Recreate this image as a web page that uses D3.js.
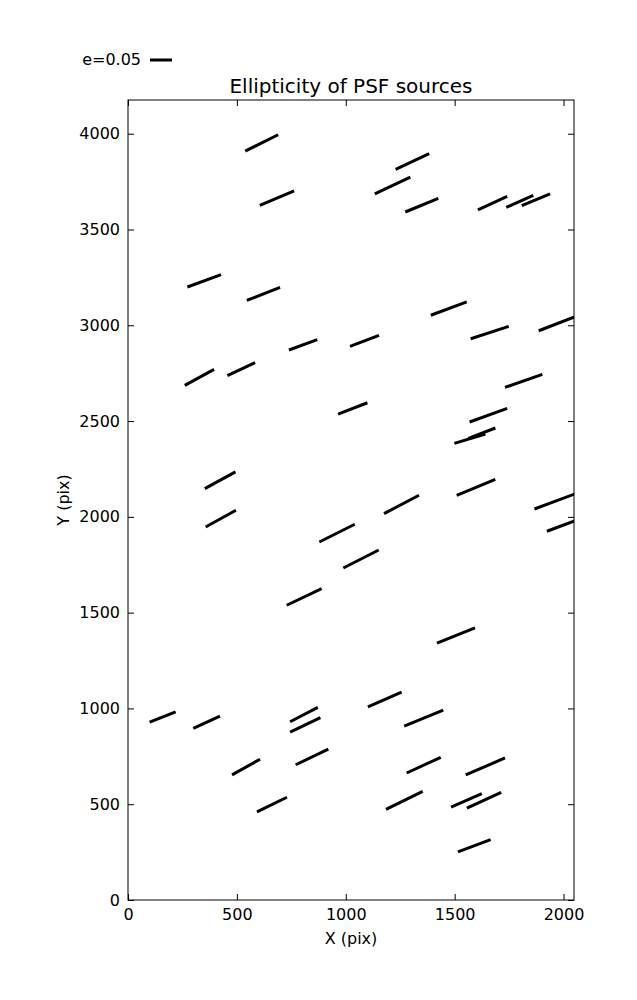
<!DOCTYPE html>
<html><head><meta charset="utf-8">
<script src="https://cdn.jsdelivr.net/npm/d3@7"></script>
<style>body{margin:0;background:#fff}svg{display:block}text{font-family:"DejaVu Sans",sans-serif}</style>
</head><body><div id="chart"></div>
<script>
const titleText = "Ellipticity of PSF sources";
const xTicks = [0, 500, 1000, 1500, 2000];
const yTicks = [0, 500, 1000, 1500, 2000, 2500, 3000, 3500, 4000];
const legendE = 0.05;
// source centre X (pix)
const srcX = [614, 1306, 684, 1215, 1349, 1674, 1799, 1873, 350, 622, 1473, 804, 1086, 1661, 1972, 328, 520, 1817, 1032, 1655, 1570, 1625, 423, 1598, 1256, 1963, 426, 960, 2001, 1070, 809, 1506, 159, 361, 808, 814, 542, 845, 661, 1179, 1358, 1358, 1641, 1269, 1554, 1635, 1590];
// source centre Y (pix)
const srcY = [3952, 3855, 3664, 3730, 3627, 3638, 3647, 3655, 3232, 3164, 3087, 2898, 2919, 2962, 3009, 2728, 2771, 2710, 2566, 2531, 2408, 2437, 2191, 2154, 2065, 2082, 1991, 1915, 1958, 1780, 1582, 1381, 955, 928, 968, 914, 694, 747, 498, 1047, 949, 704, 697, 520, 520, 521, 283];
// ellipticity
const srcE = [0.0836, 0.0840, 0.0848, 0.0893, 0.0812, 0.0732, 0.0671, 0.0696, 0.0815, 0.0812, 0.0872, 0.0685, 0.0705, 0.0909, 0.0910, 0.0759, 0.0695, 0.0898, 0.0714, 0.0909, 0.0736, 0.0657, 0.0793, 0.0950, 0.0898, 0.1020, 0.0786, 0.0900, 0.0818, 0.0902, 0.0880, 0.0932, 0.0636, 0.0668, 0.0709, 0.0764, 0.0730, 0.0823, 0.0759, 0.0836, 0.0959, 0.0852, 0.0973, 0.0930, 0.0761, 0.0857, 0.0793];
// position angle (deg)
const srcPA = [26.3, 24.9, 23.1, 25.1, 22.5, 24.6, 24.0, 22.5, 20.1, 21.3, 20.3, 20.0, 20.8, 18.1, 21.0, 28.6, 25.1, 19.2, 21.1, 20.0, 16.7, 20.9, 28.6, 22.5, 27.7, 20.5, 28.9, 26.6, 20.7, 26.9, 25.4, 21.9, 21.6, 24.7, 27.5, 25.7, 29.3, 25.7, 26.1, 23.6, 22.3, 24.8, 23.4, 26.1, 23.4, 24.6, 20.6];

const W = 637, H = 1000;
const m = {left: 128, right: 574, top: 100, bottom: 900};
const svg = d3.select("#chart").append("svg").attr("width", W).attr("height", H);

const x = d3.scaleLinear().domain([0, 2048]).range([m.left, m.right]);
const y = d3.scaleLinear().domain([0, 4176]).range([m.bottom, m.top]);
const eLen = d3.scaleLinear().domain([0, legendE]).range([0, 22]);

svg.append("defs").append("clipPath").attr("id", "clip")
  .append("rect").attr("x", m.left).attr("y", m.top)
  .attr("width", m.right - m.left).attr("height", m.bottom - m.top);

const data = srcX.map((d, i) => ({x: d, y: srcY[i], e: srcE[i], pa: srcPA[i]}));

svg.append("g").attr("clip-path", "url(#clip)")
  .selectAll("line").data(data).join("line")
  .attr("x1", d => x(d.x) - eLen(d.e) / 2 * Math.cos(d.pa * Math.PI / 180))
  .attr("x2", d => x(d.x) + eLen(d.e) / 2 * Math.cos(d.pa * Math.PI / 180))
  .attr("y1", d => y(d.y) + eLen(d.e) / 2 * Math.sin(d.pa * Math.PI / 180))
  .attr("y2", d => y(d.y) - eLen(d.e) / 2 * Math.sin(d.pa * Math.PI / 180))
  .attr("stroke", "#000").attr("stroke-width", 3).attr("stroke-linecap", "butt");

const tl = 6;
const fs = "16px";
// axes
const gb = svg.append("g").attr("transform", `translate(0,${m.bottom})`)
  .call(d3.axisBottom(x).tickValues(xTicks).tickSize(-tl).tickPadding(9).tickFormat(d3.format("d")));
const gt = svg.append("g").attr("transform", `translate(0,${m.top})`)
  .call(d3.axisTop(x).tickValues(xTicks).tickSize(-tl).tickFormat(""));
const gl = svg.append("g").attr("transform", `translate(${m.left},0)`)
  .call(d3.axisLeft(y).tickValues(yTicks).tickSize(-tl).tickPadding(8).tickFormat(d3.format("d")));
const gr = svg.append("g").attr("transform", `translate(${m.right},0)`)
  .call(d3.axisRight(y).tickValues(yTicks).tickSize(-tl).tickFormat(""));
[gb, gt, gl, gr].forEach(g => {
  g.select(".domain").remove();
  g.selectAll("line").attr("stroke", "#000").attr("stroke-width", 1);
  g.selectAll("text").attr("fill", "#000").style("font-size", fs).style("font-family", '"DejaVu Sans"');
});
svg.append("rect").attr("x", m.left).attr("y", m.top)
  .attr("width", m.right - m.left).attr("height", m.bottom - m.top)
  .attr("fill", "none").attr("stroke", "#000").attr("stroke-width", 1);

svg.append("text").attr("x", (m.left + m.right) / 2).attr("y", 93)
  .attr("text-anchor", "middle").style("font-size", "20px").text(titleText);
svg.append("text").attr("x", (m.left + m.right) / 2).attr("y", 944)
  .attr("text-anchor", "middle").style("font-size", fs).text("X (pix)");
svg.append("text").attr("transform", `translate(69,${(m.top + m.bottom) / 2}) rotate(-90)`)
  .attr("text-anchor", "middle").style("font-size", fs).text("Y (pix)");

// legend
svg.append("text").attr("x", 141).attr("y", 65).attr("text-anchor", "end")
  .style("font-size", fs).text("e=" + legendE.toFixed(2));
svg.append("line").attr("x1", 150).attr("x2", 150 + eLen(legendE)).attr("y1", 60).attr("y2", 60)
  .attr("stroke", "#000").attr("stroke-width", 3);
</script></body></html>
